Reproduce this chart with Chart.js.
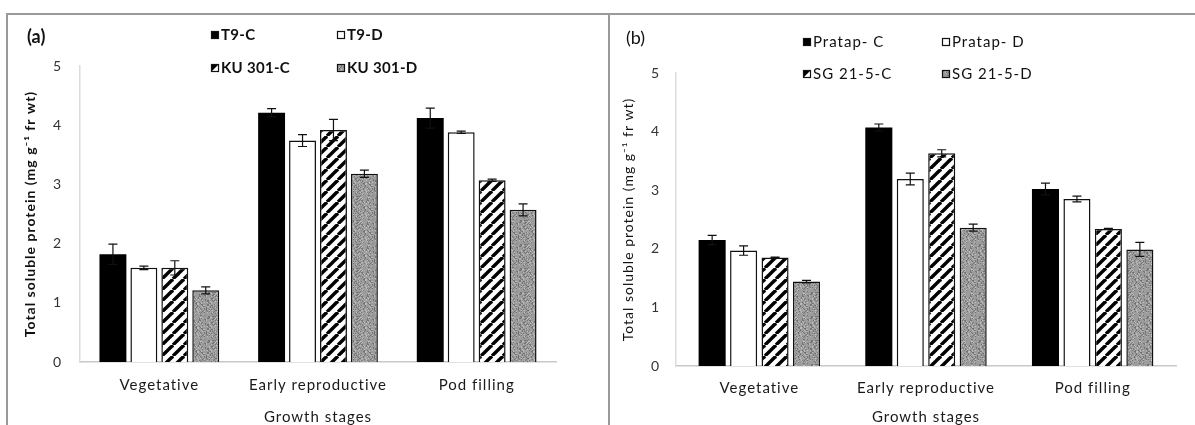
<!doctype html>
<html>
  <head>
    <meta charset="utf-8">
    <title>Total soluble protein - growth stages</title>
    <style>
      html, body {
	  margin: 0;
	  padding: 0;
	  background: #fff;
      }
      #page {
	  position: relative;
	  width: 1195px;
	  height: 425px;
	  overflow: hidden;
      }
      canvas {
	  position: absolute;
	  top: 15px;
      }
      #chartA { left: 8px; }
      #chartB { left: 611px; }
      .rule {
	  position: absolute;
	  background: #9a9a9a;
      }
    </style>
    <script src="https://cdn.jsdelivr.net/npm/chart.js@4/dist/chart.umd.min.js"></script>
  </head>
  <body>
    <div id="page">
      <div class="rule" style="left:7px; top:13px; width:1188px; height:2px"></div>
      <div class="rule" style="left:6px; top:13px; width:2px; height:412px"></div>
      <div class="rule" style="left:608px; top:13px; width:2px; height:412px"></div>
      <canvas id="chartA" width="600" height="410"></canvas>
      <canvas id="chartB" width="584" height="410"></canvas>
    </div>
  </body>
  <script>
    // growth stages shared by both panels
    const stages = ["Vegetative", "Early reproductive", "Pod filling"];
    const yTicks = [0, 1, 2, 3, 4, 5];

    // panel (a): T9 and KU 301, control / drought
    const t9C = [1.82, 4.21, 4.12];
    const t9CErr = [0.17, 0.07, 0.17];
    const t9D = [1.59, 3.74, 3.88];
    const t9DErr = [0.03, 0.10, 0.02];
    const ku301C = [1.59, 3.92, 3.07];
    const ku301CErr = [0.12, 0.18, 0.02];
    const ku301D = [1.21, 3.18, 2.57];
    const ku301DErr = [0.06, 0.06, 0.10];

    // panel (b): Pratap and SG 21-5, control / drought
    const pratapC = [2.15, 4.07, 3.02];
    const pratapCErr = [0.08, 0.06, 0.10];
    const pratapD = [1.97, 3.19, 2.85];
    const pratapDErr = [0.08, 0.10, 0.05];
    const sgC = [1.85, 3.63, 2.34];
    const sgCErr = [0.01, 0.06, 0.01];
    const sgD = [1.44, 2.36, 1.99];
    const sgDErr = [0.02, 0.06, 0.12];

    const FONT = "Lato, 'Open Sans', sans-serif";

    // diagonal "/" hatch, black on white
    function hatchPattern() {
	const s = 11;
	const c = document.createElement("canvas");
	c.width = s; c.height = s;
	const g = c.getContext("2d");
	g.fillStyle = "#fff";
	g.fillRect(0, 0, s, s);
	g.strokeStyle = "#000";
	g.lineWidth = 3.4;
	for (const o of [-s, 0, s]) {
	    g.beginPath();
	    g.moveTo(o, s);
	    g.lineTo(o + s, 0);
	    g.stroke();
	}
	return g.createPattern(c, "repeat");
    }

    // speckled grey fill
    function greyPattern() {
	const s = 24;
	const c = document.createElement("canvas");
	c.width = s; c.height = s;
	const g = c.getContext("2d");
	g.fillStyle = "#9c9c9c";
	g.fillRect(0, 0, s, s);
	for (let y = 0; y < s; y++) {
	    for (let x = 0; x < s; x++) {
		const h = (x * 73 + y * 151 + x * y * 29 + (x ^ y) * 17) % 31;
		if (h < 7) {
		    g.fillStyle = "#747474";
		    g.fillRect(x, y, 1, 1);
		} else if (h > 26) {
		    g.fillStyle = "#bdbdbd";
		    g.fillRect(x, y, 1, 1);
		}
	    }
	}
	return g.createPattern(c, "repeat");
    }

    const HATCH = hatchPattern();
    const GREY = greyPattern();

    function series(label, data, err, kind) {
	const fills = {black: "#000", white: "#fff", hatch: HATCH, grey: GREY};
	return {
	    label: label,
	    data: data,
	    errors: err,
	    kind: kind,
	    backgroundColor: fills[kind],
	    borderColor: "#111",
	    borderWidth: kind == "black" ? 0 : 1.5,
	};
    }

    // looser letter spacing for the axis text
    const spacing = {
	id: "spacing",
	beforeDraw(chart, args, opts) {
	    chart.ctx.letterSpacing = opts.value;
	}
    };

    // error bars, drawn over the bars
    const errorBars = {
	id: "errorBars",
	afterDatasetsDraw(chart) {
	    const ctx = chart.ctx;
	    const y = chart.scales.y;
	    ctx.save();
	    ctx.strokeStyle = "#111";
	    ctx.lineWidth = 1.2;
	    chart.data.datasets.forEach((ds, i) => {
		chart.getDatasetMeta(i).data.forEach((bar, j) => {
		    const v = ds.data[j], e = ds.errors[j];
		    const top = y.getPixelForValue(v + e);
		    const bot = y.getPixelForValue(v - e);
		    ctx.beginPath();
		    ctx.moveTo(bar.x, top); ctx.lineTo(bar.x, bot);
		    ctx.moveTo(bar.x - 4.5, top); ctx.lineTo(bar.x + 4.5, top);
		    ctx.moveTo(bar.x - 4.5, bot); ctx.lineTo(bar.x + 4.5, bot);
		    ctx.stroke();
		});
	    });
	    ctx.restore();
	}
    };

    // 2x2 legend and the panel letter
    const panelDecor = {
	id: "panelDecor",
	afterDraw(chart, args, opts) {
	    const ctx = chart.ctx;
	    ctx.save();
	    ctx.fillStyle = "#111";
	    ctx.textBaseline = "middle";
	    ctx.letterSpacing = "0px";
	    ctx.font = opts.letterFont;
	    ctx.fillText(opts.letter, opts.letterAt[0], opts.letterAt[1]);
	    ctx.font = opts.legendFont;
	    ctx.letterSpacing = opts.legendSpacing;
	    chart.data.datasets.forEach((ds, i) => {
		const [lx, ly] = opts.spots[i];
		const b = 8;
		if (ds.kind == "hatch") {
		    ctx.fillStyle = "#fff";
		    ctx.fillRect(lx, ly - b / 2, b, b);
		    ctx.fillStyle = "#000";
		    ctx.beginPath();
		    ctx.moveTo(lx, ly - b / 2);
		    ctx.lineTo(lx + b, ly - b / 2);
		    ctx.lineTo(lx, ly + b / 2);
		    ctx.closePath();
		    ctx.fill();
		} else {
		    ctx.fillStyle = ds.backgroundColor;
		    ctx.fillRect(lx, ly - b / 2, b, b);
		}
		ctx.strokeStyle = "#111";
		ctx.lineWidth = 1.2;
		ctx.strokeRect(lx + 0.5, ly - b / 2 + 0.5, b - 1, b - 1);
		ctx.fillStyle = "#111";
		ctx.fillText(ds.label, lx + b + 2, ly);
	    });
	    ctx.restore();
	}
    };

    function makeChart(id, datasets, p) {
	return new Chart(document.getElementById(id), {
	    type: "bar",
	    data: {labels: stages, datasets: datasets},
	    plugins: [spacing, errorBars, panelDecor],
	    options: {
		responsive: false,
		animation: false,
		devicePixelRatio: 1,
		layout: {padding: {top: p.top, right: p.right, left: 0, bottom: 0}},
		datasets: {
		    bar: {
			categoryPercentage: p.cat,
			barPercentage: p.bar,
		    }
		},
		plugins: {
		    legend: {display: false},
		    tooltip: {enabled: false},
		    spacing: {value: "1px"},
		    panelDecor: {
			letter: p.letter,
			letterAt: p.letterAt,
			letterFont: p.letterFont,
			legendFont: p.legendFont,
			legendSpacing: p.legendSpacing,
			spots: p.spots,
		    },
		},
		scales: {
		    x: {
			grid: {display: false, drawTicks: false},
			border: {color: "#c8c8c8", width: 1.5},
			ticks: {
			    color: "#1a1a1a",
			    padding: p.xPad,
			    font: {family: FONT, size: 15},
			},
			title: {
			    display: true,
			    text: "Growth stages",
			    color: "#1a1a1a",
			    padding: {top: 0, bottom: 0},
			    font: {family: FONT, size: 15, lineHeight: 1},
			},
			afterFit(s) { s.height = p.xHeight; },
		    },
		    y: {
			min: 0,
			max: 5,
			afterBuildTicks(s) { s.ticks = yTicks.map(v => ({value: v})); },
			grid: {display: false, drawTicks: false},
			border: {color: "#dcdcdc", width: 1.5},
			ticks: {
			    color: "#333",
			    padding: p.yPad,
			    font: {family: FONT, size: 14},
			},
			title: {
			    display: true,
			    text: "Total soluble protein (mg g\u207B\u00B9 fr wt)",
			    color: "#111",
			    padding: {top: p.yTitlePad, bottom: 0},
			    font: {family: FONT, size: 14, weight: p.yTitleWeight},
			},
			afterFit(s) { s.width = p.yWidth; },
		    },
		},
	    },
	});
    }

    makeChart("chartA", [
	series("T9-C", t9C, t9CErr, "black"),
	series("T9-D", t9D, t9DErr, "white"),
	series("KU 301-C", ku301C, ku301CErr, "hatch"),
	series("KU 301-D", ku301D, ku301DErr, "grey"),
    ], {
	top: 51, right: 52, yWidth: 72, xHeight: 63,
	cat: 0.78, bar: 0.87,
	xPad: 14, yPad: 18, yTitlePad: 14, yTitleWeight: "bold",
	letter: "(a)", letterAt: [19, 22], letterFont: "bold 18px " + FONT,
	legendFont: "bold 15px " + FONT, legendSpacing: "0.3px",
	spots: [[203, 20], [329, 20], [203, 53], [329, 53]],
    });

    makeChart("chartB", [
	series("Pratap- C", pratapC, pratapCErr, "black"),
	series("Pratap- D", pratapD, pratapDErr, "white"),
	series("SG 21-5-C", sgC, sgCErr, "hatch"),
	series("SG 21-5-D", sgD, sgDErr, "grey"),
    ], {
	top: 58, right: 19, yWidth: 65, xHeight: 59,
	cat: 0.755, bar: 0.86,
	xPad: 13, yPad: 16, yTitlePad: 9, yTitleWeight: "normal",
	letter: "(b)", letterAt: [15, 23], letterFont: "18px " + FONT,
	legendFont: "15px " + FONT, legendSpacing: "1px",
	spots: [[192, 27], [331, 27], [192, 59], [331, 59]],
    });
  </script>
</html>
